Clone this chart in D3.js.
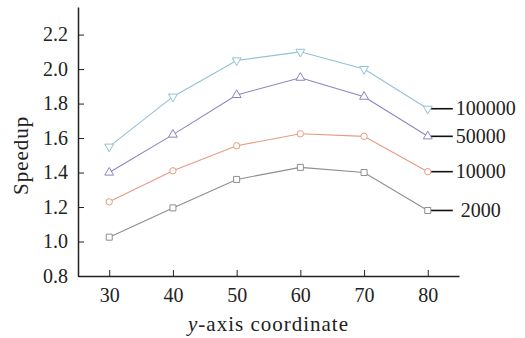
<!DOCTYPE html>
<meta charset="utf-8">
<script src="https://d3js.org/d3.v7.min.js"></script>
<style>
  body { margin: 0; background: #fff; }
  text { font-family: "Liberation Serif", serif; fill: #222; }
</style>
<div id="chart"></div>
<script>

  // data
  var xValues = [30, 40, 50, 60, 70, 80];
  var s100000 = [1.55, 1.84, 2.05, 2.10, 2.00, 1.77];
  var s50000  = [1.40, 1.62, 1.85, 1.95, 1.84, 1.61];
  var s10000  = [1.23, 1.41, 1.555, 1.625, 1.61, 1.405];
  var s2000   = [1.025, 1.195, 1.36, 1.43, 1.40, 1.18];
  var seriesNames = ["100000", "50000", "10000", " 2000"];
  var xTicks = [30, 40, 50, 60, 70, 80];
  var yTicks = [0.8, 1.0, 1.2, 1.4, 1.6, 1.8, 2.0, 2.2];

  var series = [
    { name: seriesNames[0], values: s100000, color: "#92c2d4", symbol: "down" },
    { name: seriesNames[1], values: s50000,  color: "#8c84c2", symbol: "up" },
    { name: seriesNames[2], values: s10000,  color: "#e99a80", symbol: "circle" },
    { name: seriesNames[3], values: s2000,   color: "#8e8e8e", symbol: "square" }
  ];

  var margin = { top: 7, right: 66, bottom: 62, left: 78 },
    width = 525 - margin.left - margin.right,
    height = 338 - margin.top - margin.bottom;

  var svg = d3.select("#chart")
    .append("svg")
    .attr("width", 525)
    .attr("height", 338)
    .append("g")
    .attr("transform", "translate(" + margin.left + "," + margin.top + ")");

  var x = d3.scaleLinear().domain([25.1, 84.9]).range([0, width]);
  var y = d3.scaleLinear().domain([0.8, 2.36]).range([height, 0]);

  // axes (ticks point inward)
  var xAxis = svg.append("g")
    .attr("transform", "translate(0," + height + ")")
    .call(d3.axisBottom(x).tickValues(xTicks).tickSize(-6).tickSizeOuter(0).tickPadding(12));
  var yAxis = svg.append("g")
    .call(d3.axisLeft(y).tickValues(yTicks).tickFormat(d3.format(".1f")).tickSize(-6).tickSizeOuter(0).tickPadding(10));

  [xAxis, yAxis].forEach(function (a) {
    a.select(".domain").attr("stroke", "#222").attr("stroke-width", 1.5);
    a.selectAll(".tick line").attr("stroke", "#222");
    a.selectAll("text").attr("font-family", "Liberation Serif").attr("font-size", 20).attr("fill", "#222");
  });

  // axis titles
  var xt = svg.append("text")
    .attr("x", width / 2)
    .attr("y", height + 55)
    .attr("text-anchor", "middle")
    .attr("font-size", 21)
    .attr("letter-spacing", 1);
  xt.append("tspan").attr("font-style", "italic").text("y");
  xt.append("tspan").text("-axis coordinate");

  svg.append("text")
    .attr("transform", "translate(-50," + (y(1.5)) + ") rotate(-90)")
    .attr("text-anchor", "middle")
    .attr("font-size", 21)
    .attr("letter-spacing", 1)
    .text("Speedup");

  var line = d3.line()
    .x(function (d, i) { return x(xValues[i]); })
    .y(function (d) { return y(d); });

  var symbols = {
    down: d3.symbol().type(d3.symbolTriangle).size(34),
    up: d3.symbol().type(d3.symbolTriangle).size(34),
    circle: d3.symbol().type(d3.symbolCircle).size(32),
    square: d3.symbol().type(d3.symbolSquare).size(36)
  };

  series.forEach(function (s) {
    svg.append("path")
      .datum(s.values)
      .attr("fill", "none")
      .attr("stroke", s.color)
      .attr("stroke-width", 1.1)
      .attr("d", line);

    // leader line and label at the last point
    var last = s.values[s.values.length - 1];
    var lx = x(xValues[xValues.length - 1]);
    svg.append("line")
      .attr("x1", lx + 3)
      .attr("x2", lx + 25)
      .attr("y1", y(last))
      .attr("y2", y(last))
      .attr("stroke", "#111")
      .attr("stroke-width", 1.6);
    svg.append("text")
      .attr("x", lx + 28)
      .attr("y", y(last))
      .attr("dy", "0.33em")
      .attr("font-size", 20)
      .style("white-space", "pre")
      .text(s.name);

    svg.selectAll(null)
      .data(s.values)
      .enter()
      .append("path")
      .attr("d", symbols[s.symbol])
      .attr("transform", function (d, i) {
        return "translate(" + x(xValues[i]) + "," + y(d) + ")" + (s.symbol == "down" ? " rotate(180)" : "");
      })
      .attr("fill", "#fff")
      .attr("stroke", s.color)
      .attr("stroke-width", 1);
  });

</script>
